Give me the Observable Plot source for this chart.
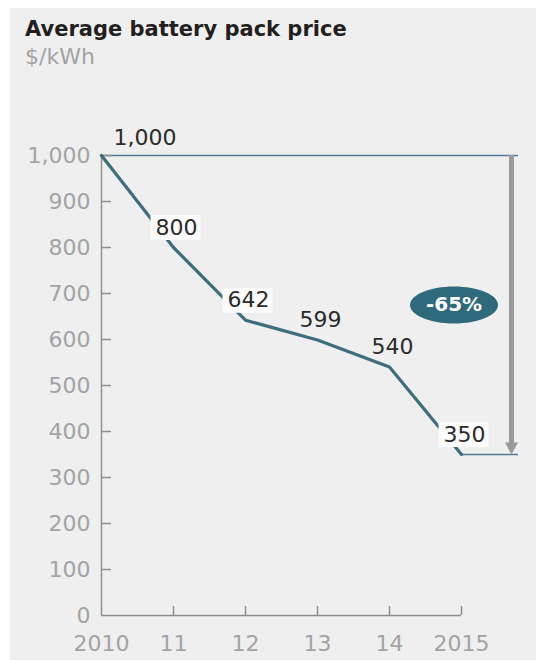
<!DOCTYPE html>
<html><head><meta charset="utf-8">
<script src="https://cdn.jsdelivr.net/npm/d3@7"></script>
<script src="https://cdn.jsdelivr.net/npm/@observablehq/plot@0.6"></script>
<style>
body{margin:0;background:#fff;font-family:"DejaVu Sans",sans-serif;}
#panel{position:absolute;left:10px;top:8px;width:526px;height:652px;background:#efefef;overflow:hidden}
#title{position:absolute;left:15px;top:9px;font-weight:bold;font-size:21px;color:#231f20;white-space:nowrap}
#sub{position:absolute;left:15px;top:36px;font-size:22px;color:#a3a3a3}
#chart{position:absolute;left:0;top:92px}
</style></head><body>
<div id="panel"><div id="title">Average battery pack price</div><div id="sub">$/kWh</div><div id="chart"></div></div>
<script>
const years = [2010, 2011, 2012, 2013, 2014, 2015];
const prices = [1000, 800, 642, 599, 540, 350];
const xTicks = [2010, 2011, 2012, 2013, 2014, 2015];
const xTickLabels = ["2010", "11", "12", "13", "14", "2015"];
const yTicks = [0, 100, 200, 300, 400, 500, 600, 700, 800, 900, 1000];
const boxedYears = [2011, 2012, 2015];

const data = years.map((year, i) => ({year, price: prices[i]}));
const first = data[0], last = data[data.length - 1];
const change = Math.round((last.price - first.price) / first.price * 100);
const fmt = d3.format(",");

const lineColor = "#3c6e7e";
const axisColor = "#8f8f8f";
const tickText = "#a3a3a3";
const refColor = "#4f7b98";

const boxSymbol = {draw(c) { c.moveTo(-25, -12.5); c.lineTo(25, -12.5); c.lineTo(25, 12.5); c.lineTo(-25, 12.5); c.closePath(); }};
const ellipseSymbol = {draw(c) {
  const rx = 44, ry = 18.5, k = 0.5523;
  c.moveTo(rx, 0);
  c.bezierCurveTo(rx, ry * k, rx * k, ry, 0, ry);
  c.bezierCurveTo(-rx * k, ry, -rx, ry * k, -rx, 0);
  c.bezierCurveTo(-rx, -ry * k, -rx * k, -ry, 0, -ry);
  c.bezierCurveTo(rx * k, -ry, rx, -ry * k, rx, 0);
  c.closePath();
}};
const headSymbol = {draw(c) { c.moveTo(-6.5, -12); c.lineTo(6.5, -12); c.lineTo(0, 0); c.closePath(); }};

const chart = Plot.plot({
  width: 526,
  height: 560,
  marginLeft: 91,
  marginRight: 75,
  marginTop: 55,
  marginBottom: 45,
  style: {background: "transparent", fontFamily: "DejaVu Sans", overflow: "visible"},
  x: {domain: [years[0], years[years.length - 1]], axis: null},
  y: {domain: [0, first.price], axis: null},
  marks: [
    // reference rules
    Plot.ruleY([first], {y: "price", x1: first.year, x2: last.year, insetRight: -57, stroke: refColor, strokeWidth: 1.4}),
    Plot.ruleY([last], {y: "price", x1: last.year, x2: last.year, insetRight: -57, stroke: refColor, strokeWidth: 1.4}),
    // axes
    Plot.ruleX([years[0]], {y1: 0, y2: first.price, stroke: axisColor, strokeWidth: 1.5}),
    Plot.ruleY([0], {x1: years[0], x2: years[years.length - 1], stroke: axisColor, strokeWidth: 1.5}),
    Plot.ruleX(xTicks.slice(1), {x: d => d, y1: 0, y2: 0, insetTop: -9, stroke: axisColor, strokeWidth: 1.5}),
    Plot.ruleY(yTicks.slice(1), {y: d => d, x1: years[0], x2: years[0], insetRight: -10, stroke: axisColor, strokeWidth: 1.5}),
    Plot.text(yTicks, {x: years[0], y: d => d, text: d => fmt(d), textAnchor: "end", dx: -11, fontSize: 22, fill: tickText}),
    Plot.text(xTicks, {x: d => d, y: 0, text: (d, i) => xTickLabels[i], dy: 28, fontSize: 22, fill: tickText}),
    // arrow
    Plot.ruleX([last], {x: "year", y1: first.price, y2: last.price, dx: 50, insetBottom: 10, stroke: "#9a9a9a", strokeWidth: 5}),
    Plot.dot([last], {x: "year", y: "price", dx: 50, symbol: headSymbol, fill: "#9a9a9a", stroke: "none"}),
    // line
    Plot.line(data, {x: "year", y: "price", stroke: lineColor, strokeWidth: 3.2}),
    // label boxes
    Plot.dot(data.filter(d => boxedYears.includes(d.year)), {x: "year", y: "price", dx: 2, dy: -20, symbol: boxSymbol, fill: "#fbfbfb", stroke: "none"}),
    // value labels
    Plot.text([first], {x: "year", y: "price", text: d => fmt(d.price), textAnchor: "start", dx: 12, dy: -18, fontSize: 22, fill: "#2b2b2b"}),
    Plot.text(data.slice(1), {x: "year", y: "price", text: d => fmt(d.price), dx: 3, dy: -20, fontSize: 22, fill: "#2b2b2b"}),
    // change badge
    Plot.dot([{year: last.year, price: (first.price + last.price) / 2}], {x: "year", y: "price", dx: -7.5, symbol: ellipseSymbol, fill: "#2e6a7b", stroke: "none"}),
    Plot.text([{year: last.year, price: (first.price + last.price) / 2}], {x: "year", y: "price", dx: -7.5, text: () => change + "%", fill: "white", fontWeight: "bold", fontSize: 20})
  ]
});
document.getElementById("chart").appendChild(chart);
</script>
</body></html>
